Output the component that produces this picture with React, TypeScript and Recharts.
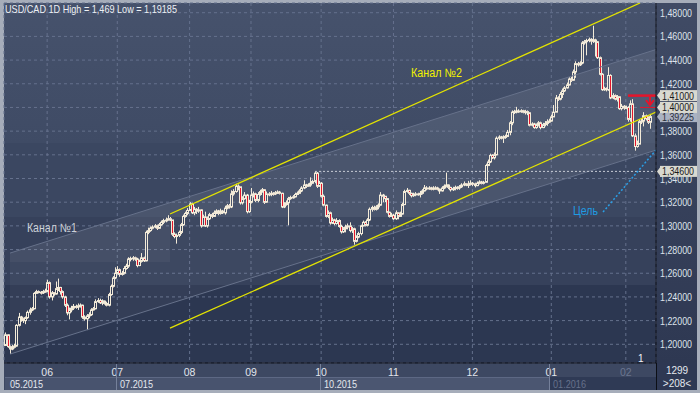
import React from 'react';
import { ComposedChart, Bar, Area, Line, XAxis, YAxis, CartesianGrid, ReferenceDot } from 'recharts';

// ---- daily candles USD/CAD (May 2015 - Feb 2016) ----
const opens = [
1.1990,1.2080,1.1980,1.1960,1.1975,1.1985,1.2160,1.2230,1.2215,1.2200,
1.2225,1.2270,1.2290,1.2300,1.2430,1.2445,1.2440,1.2435,1.2445,1.2450,
1.2520,1.2400,1.2435,1.2425,1.2470,1.2480,1.2445,1.2400,1.2330,1.2265,
1.2290,1.2305,1.2320,1.2315,1.2325,1.2330,1.2230,1.2215,1.2240,1.2250,
1.2290,1.2300,1.2360,1.2370,1.2350,1.2365,1.2345,1.2330,1.2420,1.2490,
1.2560,1.2600,1.2630,1.2590,1.2600,1.2640,1.2660,1.2720,1.2725,1.2730,
1.2720,1.2665,1.2700,1.2730,1.2705,1.2945,1.2960,1.2980,1.2990,1.3000,
1.2980,1.3010,1.3030,1.3045,1.3050,1.3060,1.3050,1.2930,1.2910,1.2920,
1.2945,1.3010,1.3080,1.3105,1.3130,1.3185,1.3110,1.3140,1.3125,1.3135,
1.3000,1.3075,1.3000,1.3060,1.3095,1.3080,1.3110,1.3125,1.3105,1.3125,
1.3110,1.3150,1.3170,1.3160,1.3270,1.3290,1.3335,1.3330,1.3195,1.3230,
1.3260,1.3120,1.3200,1.3260,1.3270,1.3215,1.3265,1.3290,1.3305,1.3200,
1.3270,1.3265,1.3275,1.3270,1.3280,1.3285,1.3275,1.3160,1.3180,1.3195,
1.3230,1.3240,1.3245,1.3265,1.3275,1.3295,1.3320,1.3345,1.3335,1.3345,
1.3360,1.3375,1.3445,1.3335,1.3360,1.3250,1.3175,1.3080,1.3110,1.3025,
1.3050,1.3020,1.3045,1.2995,1.2950,1.2975,1.2990,1.3000,1.2960,1.2975,
1.2870,1.2905,1.2935,1.3000,1.3030,1.3005,1.3050,1.3140,1.3155,1.3140,
1.3160,1.3175,1.3260,1.3250,1.3230,1.3115,1.3080,1.3090,1.3060,1.3110,
1.3080,1.3100,1.3180,1.3290,1.3300,1.3275,1.3255,1.3265,1.3270,1.3265,
1.3275,1.3295,1.3320,1.3315,1.3320,1.3310,1.3318,1.3320,1.3310,1.3295,
1.3320,1.3335,1.3345,1.3325,1.3305,1.3315,1.3325,1.3320,1.3330,1.3345,
1.3355,1.3345,1.3350,1.3360,1.3355,1.3340,1.3360,1.3370,1.3360,1.3368,
1.3510,1.3540,1.3595,1.3575,1.3600,1.3740,1.3750,1.3745,1.3750,1.3755,
1.3790,1.3870,1.3960,1.3965,1.3970,1.3968,1.3972,1.3960,1.3965,1.3955,
1.3850,1.3860,1.3830,1.3850,1.3870,1.3830,1.3855,1.3865,1.3880,1.3885,
1.3920,1.3960,1.4080,1.4070,1.4110,1.4140,1.4165,1.4190,1.4240,1.4230,
1.4300,1.4370,1.4360,1.4375,1.4545,1.4555,1.4565,1.4575,1.4560,1.4570,
1.4555,1.4420,1.4280,1.4150,1.4160,1.4150,1.4270,1.4080,1.4100,1.4070,
1.4090,1.3990,1.4010,1.3995,1.4000,1.3900,1.4030,1.3760,1.3670,1.3690,
1.3880,1.3885,1.3930,1.3905,1.3875];

const highs = [
1.2100,1.2085,1.1990,1.1995,1.2005,1.2170,1.2265,1.2240,1.2225,1.2235,
1.2285,1.2310,1.2315,1.2440,1.2460,1.2455,1.2450,1.2460,1.2470,1.2545,
1.2530,1.2450,1.2440,1.2530,1.2555,1.2485,1.2455,1.2410,1.2345,1.2310,
1.2325,1.2340,1.2335,1.2345,1.2345,1.2335,1.2245,1.2255,1.2270,1.2305,
1.2315,1.2380,1.2390,1.2385,1.2380,1.2370,1.2360,1.2435,1.2505,1.2575,
1.2650,1.2660,1.2640,1.2620,1.2660,1.2680,1.2735,1.2740,1.2745,1.2740,
1.2730,1.2715,1.2770,1.2740,1.2960,1.2985,1.2995,1.3005,1.3015,1.3010,
1.3025,1.3045,1.3060,1.3070,1.3090,1.3075,1.3050,1.2945,1.2935,1.2960,
1.3025,1.3095,1.3120,1.3150,1.3200,1.3195,1.3160,1.3150,1.3160,1.3140,
1.3095,1.3120,1.3080,1.3110,1.3110,1.3130,1.3140,1.3135,1.3145,1.3135,
1.3170,1.3185,1.3185,1.3300,1.3310,1.3355,1.3350,1.3320,1.3250,1.3285,
1.3270,1.3220,1.3320,1.3290,1.3280,1.3285,1.3305,1.3320,1.3310,1.3290,
1.3285,1.3295,1.3285,1.3295,1.3300,1.3295,1.3280,1.3200,1.3215,1.3245,
1.3255,1.3260,1.3280,1.3290,1.3310,1.3335,1.3385,1.3355,1.3360,1.3410,
1.3390,1.3460,1.3455,1.3380,1.3370,1.3265,1.3180,1.3130,1.3120,1.3070,
1.3060,1.3065,1.3055,1.3010,1.2990,1.3010,1.3020,1.3030,1.2990,1.2985,
1.2920,1.2950,1.3010,1.3045,1.3040,1.3065,1.3155,1.3170,1.3170,1.3175,
1.3190,1.3285,1.3270,1.3250,1.3235,1.3120,1.3110,1.3100,1.3130,1.3115,
1.3120,1.3195,1.3305,1.3320,1.3305,1.3280,1.3280,1.3285,1.3280,1.3295,
1.3310,1.3345,1.3335,1.3335,1.3330,1.3335,1.3335,1.3330,1.3315,1.3335,
1.3350,1.3450,1.3350,1.3330,1.3330,1.3340,1.3335,1.3345,1.3360,1.3375,
1.3360,1.3380,1.3385,1.3370,1.3365,1.3375,1.3385,1.3380,1.3380,1.3525,
1.3560,1.3610,1.3605,1.3620,1.3755,1.3765,1.3760,1.3765,1.3770,1.3810,
1.3885,1.3975,1.3980,1.4005,1.3985,1.3985,1.3980,1.3980,1.3975,1.3960,
1.3875,1.3870,1.3865,1.3885,1.3880,1.3870,1.3885,1.3900,1.3905,1.3940,
1.4020,1.4105,1.4095,1.4130,1.4160,1.4180,1.4210,1.4255,1.4260,1.4320,
1.4390,1.4385,1.4390,1.4560,1.4570,1.4580,1.4590,1.4585,1.4690,1.4580,
1.4560,1.4430,1.4290,1.4175,1.4170,1.4340,1.4280,1.4120,1.4110,1.4105,
1.4095,1.4030,1.4020,1.4015,1.4010,1.4060,1.4070,1.3780,1.3720,1.3900,
1.3905,1.3960,1.3940,1.3925,1.3945];

const lows = [
1.1985,1.1970,1.19185,1.1950,1.1965,1.1980,1.2150,1.2190,1.2180,1.2170,
1.2215,1.2250,1.2280,1.2295,1.2425,1.2430,1.2420,1.2425,1.2435,1.2440,
1.2385,1.2370,1.2410,1.2420,1.2450,1.2420,1.2385,1.2315,1.2245,1.2210,
1.2270,1.2290,1.2300,1.2290,1.2310,1.2215,1.2200,1.2120,1.2220,1.2240,
1.2285,1.2295,1.2350,1.2340,1.2330,1.2335,1.2320,1.2320,1.2410,1.2480,
1.2550,1.2590,1.2570,1.2580,1.2590,1.2630,1.2645,1.2700,1.2705,1.2705,
1.2650,1.2660,1.2690,1.2695,1.2700,1.2930,1.2950,1.2970,1.2980,1.2965,
1.2975,1.3000,1.3015,1.3030,1.3045,1.3040,1.2915,1.2895,1.2850,1.2905,
1.2930,1.3000,1.3070,1.3090,1.3125,1.3100,1.3090,1.3100,1.3110,1.2985,
1.3000,1.2990,1.2985,1.3050,1.3065,1.3075,1.3100,1.3090,1.3095,1.3100,
1.3095,1.3140,1.3145,1.3150,1.3255,1.3280,1.3300,1.3180,1.3180,1.3220,
1.3105,1.3110,1.3190,1.3240,1.3200,1.3200,1.3255,1.3280,1.3185,1.3195,
1.3250,1.3250,1.3255,1.3260,1.3270,1.3265,1.3150,1.3150,1.3170,1.3005,
1.3220,1.3230,1.3240,1.3260,1.3270,1.3285,1.3310,1.3320,1.3330,1.3330,
1.3355,1.3360,1.3320,1.3330,1.3240,1.3165,1.3070,1.3065,1.3010,1.3015,
1.3005,1.3010,1.2985,1.2935,1.2940,1.2945,1.2970,1.2945,1.2940,1.2840,
1.2860,1.2895,1.2920,1.2995,1.2995,1.2995,1.3040,1.3120,1.3130,1.3130,
1.3140,1.3170,1.3200,1.3200,1.3105,1.3070,1.3075,1.3050,1.3050,1.3055,
1.3075,1.3095,1.3175,1.3280,1.3260,1.3240,1.3245,1.3250,1.3255,1.3240,
1.3265,1.3290,1.3300,1.3305,1.3300,1.3300,1.3305,1.3300,1.3270,1.3290,
1.3310,1.3325,1.3310,1.3290,1.3295,1.3300,1.3305,1.3305,1.3320,1.3335,
1.3335,1.3320,1.3340,1.3335,1.3325,1.3335,1.3350,1.3350,1.3350,1.3365,
1.3505,1.3530,1.3565,1.3560,1.3595,1.3725,1.3730,1.3700,1.3735,1.3750,
1.3765,1.3850,1.3945,1.3950,1.3955,1.3955,1.3950,1.3940,1.3935,1.3840,
1.3840,1.3820,1.3820,1.3840,1.3815,1.3825,1.3840,1.3845,1.3870,1.3880,
1.3935,1.3960,1.4055,1.4060,1.4080,1.4130,1.4160,1.4185,1.4215,1.4225,
1.4250,1.4345,1.4350,1.4365,1.4530,1.4440,1.4550,1.4530,1.4545,1.4430,
1.4410,1.4270,1.4140,1.4140,1.4135,1.4140,1.4070,1.4070,1.4060,1.4050,
1.3980,1.3975,1.3980,1.3985,1.3880,1.3880,1.3750,1.3635,1.3660,1.3690,
1.3860,1.3840,1.3890,1.3860,1.3820];

const closes = [
1.2080,1.1980,1.1960,1.1975,1.1985,1.2160,1.2230,1.2215,1.2200,1.2225,
1.2270,1.2290,1.2300,1.2430,1.2445,1.2440,1.2435,1.2445,1.2450,1.2520,
1.2400,1.2435,1.2425,1.2470,1.2480,1.2445,1.2400,1.2330,1.2265,1.2290,
1.2305,1.2320,1.2315,1.2325,1.2330,1.2230,1.2215,1.2240,1.2250,1.2290,
1.2300,1.2360,1.2370,1.2350,1.2365,1.2345,1.2330,1.2420,1.2490,1.2560,
1.2600,1.2630,1.2590,1.2600,1.2640,1.2660,1.2720,1.2725,1.2730,1.2720,
1.2665,1.2700,1.2730,1.2705,1.2945,1.2960,1.2980,1.2990,1.3000,1.2980,
1.3010,1.3030,1.3045,1.3050,1.3060,1.3050,1.2930,1.2910,1.2920,1.2945,
1.3010,1.3080,1.3105,1.3130,1.3185,1.3110,1.3140,1.3125,1.3135,1.3000,
1.3075,1.3000,1.3060,1.3095,1.3080,1.3110,1.3125,1.3105,1.3125,1.3110,
1.3150,1.3170,1.3160,1.3270,1.3290,1.3335,1.3330,1.3195,1.3230,1.3260,
1.3120,1.3200,1.3260,1.3270,1.3215,1.3265,1.3290,1.3305,1.3200,1.3270,
1.3265,1.3275,1.3270,1.3280,1.3285,1.3275,1.3160,1.3180,1.3195,1.3230,
1.3240,1.3245,1.3265,1.3275,1.3295,1.3320,1.3345,1.3335,1.3345,1.3360,
1.3375,1.3445,1.3335,1.3360,1.3250,1.3175,1.3080,1.3110,1.3025,1.3050,
1.3020,1.3045,1.2995,1.2950,1.2975,1.2990,1.3000,1.2960,1.2975,1.2870,
1.2905,1.2935,1.3000,1.3030,1.3005,1.3050,1.3140,1.3155,1.3140,1.3160,
1.3175,1.3260,1.3250,1.3230,1.3115,1.3080,1.3090,1.3060,1.3110,1.3080,
1.3100,1.3180,1.3290,1.3300,1.3275,1.3255,1.3265,1.3270,1.3265,1.3275,
1.3295,1.3320,1.3315,1.3320,1.3310,1.3318,1.3320,1.3310,1.3295,1.3320,
1.3335,1.3345,1.3325,1.3305,1.3315,1.3325,1.3320,1.3330,1.3345,1.3355,
1.3345,1.3350,1.3360,1.3355,1.3340,1.3360,1.3370,1.3360,1.3368,1.3510,
1.3540,1.3595,1.3575,1.3600,1.3740,1.3750,1.3745,1.3750,1.3755,1.3790,
1.3870,1.3960,1.3965,1.3970,1.3968,1.3972,1.3960,1.3965,1.3955,1.3850,
1.3860,1.3830,1.3850,1.3870,1.3830,1.3855,1.3865,1.3880,1.3885,1.3920,
1.3960,1.4080,1.4070,1.4110,1.4140,1.4165,1.4190,1.4240,1.4230,1.4300,
1.4370,1.4360,1.4375,1.4545,1.4555,1.4565,1.4575,1.4560,1.4570,1.4555,
1.4420,1.4280,1.4150,1.4160,1.4150,1.4270,1.4080,1.4100,1.4070,1.4090,
1.3990,1.4010,1.3995,1.4000,1.3900,1.4030,1.3760,1.3670,1.3690,1.3880,
1.3885,1.3930,1.3905,1.3875,1.39225];

// month start candle indices and their labels
const monthTickIdx = [19, 51, 84, 112, 144, 177, 213, 249, 283];
const monthLabels = ['06', '07', '08', '09', '10', '11', '12', '01', '02'];
const quarterLabels = ['05.2015', '07.2015', '10.2015', '01.2016'];
const priceTicks = [1.2, 1.22, 1.24, 1.26, 1.28, 1.3, 1.32, 1.34, 1.36, 1.38, 1.4, 1.42, 1.44, 1.46, 1.48];

const X_DOMAIN: [number, number] = [-0.684, 296.77];
const Y_DOMAIN: [number, number] = [1.1842, 1.4882];

// drawn objects (candle index, price)
const channel1Fill = [{ i: 2.05, band: [1.1917, 1.277] }, { i: 296.77, band: [1.364, 1.4489] }];
const channel1GlowLeft = [{ i: 2.05, band: [1.2695, 1.277] }, { i: 75.05, band: [1.2695, 1.3193] }];
const channel1GlowRight = [
  { i: 75.05, band: [1.3074, 1.3193] },
  { i: 200.5, band: [1.3074, 1.3927] },
  { i: 296.77, band: [1.364, 1.4489] },
];
const channel1Upper = [{ i: 2.05, v: 1.277 }, { i: 296.77, v: 1.4489 }];
const channel1Lower = [{ i: 2.05, v: 1.1917 }, { i: 296.77, v: 1.364 }];
const channel2Upper = [{ i: 75.05, v: 1.31 }, { i: 289.5, v: 1.4882 }];
const channel2Lower = [{ i: 75.05, v: 1.2137 }, { i: 296.77, v: 1.3961 }];
const level1346 = [{ i: 141.2, v: 1.346 }, { i: 296.77, v: 1.346 }];
const level141 = [{ i: 284, v: 1.41 }, { i: 296.77, v: 1.41 }];
const level140 = [{ i: 289.5, v: 1.4 }, { i: 296.77, v: 1.4 }];
const targetLine = [{ i: 272.6, v: 1.3117 }, { i: 296.77, v: 1.364 }];

const CREAM = '#f3ebd9';
const RED = '#e4152b';
const FONT = '"Liberation Sans", Arial, sans-serif';

const chartData = closes.map((c, i) => ({
  i,
  o: opens[i],
  h: highs[i],
  l: lows[i],
  c,
  range: [Math.min(lows[i], opens[i], c), Math.max(highs[i], opens[i], c)],
}));

const fmt = (v: number) => v.toFixed(5).replace('.', ',');

const Candle = (props: any) => {
  const { x, y, width, height, payload } = props;
  if (x == null || y == null || !payload) return null;
  const { o, c } = payload;
  const [lo, hi] = payload.range;
  const top = Math.min(y, y + height);
  const hh = Math.abs(height);
  const k = hi - lo > 0 ? hh / (hi - lo) : 0;
  const py = (v: number) => top + (hi - v) * k;
  const cx = Math.round(x + width / 2) + 0.5;
  const yo = py(o);
  const yc = py(c);
  const bTop = Math.min(yo, yc);
  const bBot = Math.max(yo, yc);
  const bear = c < o;
  return (
    <g>
      <line x1={cx} x2={cx} y1={top} y2={bTop} stroke={CREAM} strokeWidth={1} />
      <line x1={cx} x2={cx} y1={bBot} y2={top + hh} stroke={CREAM} strokeWidth={1} />
      <rect x={cx - 1} y={bTop} width={2} height={Math.max(bBot - bTop, 1)} fill={bear ? RED : 'none'} stroke={CREAM} strokeWidth={1} />
    </g>
  );
};

const PriceTick = (props: any) => {
  const { y, payload } = props;
  const v = payload.value;
  if (Math.abs(v - 1.4) < 1e-6) return null;
  return (
    <text x={660} y={y + 4} fill="#dde2ea" fontSize={10} fontFamily={FONT} textLength={32} lengthAdjust="spacingAndGlyphs">
      {fmt(v)}
    </text>
  );
};

const MonthTick = (props: any) => {
  const { x, payload } = props;
  const k = monthTickIdx.indexOf(payload.value);
  if (k < 0) return null;
  return (
    <text x={x} y={376} textAnchor="middle" fill={k === 8 ? '#6b7690' : '#e1e5ec'} fontSize={10.5} fontFamily={FONT}>
      {monthLabels[k]}
    </text>
  );
};

const priceBox = (value: number, fill: string, color: string) => (p: any) => {
  const cy = p.cy;
  if (cy == null) return null;
  return (
    <g>
      <polygon points={`657,${cy} 661,${cy - 5.5} 661,${cy + 5.5}`} fill={fill} />
      <rect x={660} y={cy - 5.5} width={37} height={11} fill={fill} />
      <text x={662} y={cy + 4} fill={color} fontSize={10} fontFamily={FONT} textLength={32} lengthAdjust="spacingAndGlyphs">
        {fmt(value)}
      </text>
    </g>
  );
};

const textLabel = (txt: string, color: string, size: number, len: number) => (p: any) => {
  if (p.cx == null) return null;
  return (
    <text x={p.cx} y={p.cy + size * 0.36} fill={color} fontSize={size} fontFamily={FONT} textLength={len} lengthAdjust="spacingAndGlyphs">
      {txt}
    </text>
  );
};

const redArrow = (p: any) => {
  if (p.cx == null) return null;
  const { cx, cy } = p;
  return (
    <g stroke={RED} strokeWidth={2} fill="none">
      <line x1={cx} x2={cx} y1={cy} y2={cy + 8} />
      <polyline points={`${cx - 4},${cy + 3} ${cx},${cy + 8} ${cx + 4},${cy + 3}`} />
    </g>
  );
};

export default function App() {
  return (
    <div style={{ position: 'absolute', left: 0, top: 0, width: 700, height: 393, background: '#a6adba', overflow: 'hidden' }}>
      {/* plot background bands */}
      <div style={{ position: 'absolute', left: 4, top: 3, width: 652, height: 140, background: 'linear-gradient(#46526c, #3f4b65)' }} />
      <div style={{ position: 'absolute', left: 4, top: 143, width: 652, height: 74, background: '#3b4761' }} />
      <div style={{ position: 'absolute', left: 4, top: 217, width: 652, height: 68, background: '#36415b' }} />
      <div style={{ position: 'absolute', left: 4, top: 285, width: 652, height: 78, background: '#2c3751' }} />
      {/* right axis panel */}
      <div style={{ position: 'absolute', left: 656, top: 3, width: 41, height: 360, background: 'linear-gradient(#404b65, #2e3852)' }} />
      {/* bottom panel */}
      <div style={{ position: 'absolute', left: 4, top: 363, width: 652, height: 27, background: '#3d4862' }} />
      <div style={{ position: 'absolute', left: 656, top: 363, width: 41, height: 27, background: '#2e3853' }} />

      <div style={{ position: 'absolute', left: 0, top: 0 }}>
        <ComposedChart width={700} height={393} data={chartData} margin={{ top: 3, right: 3, bottom: 0, left: 4 }}>
          <CartesianGrid stroke="#65718d" strokeDasharray="3 3" horizontal vertical />
          <XAxis
            dataKey="i"
            type="number"
            domain={X_DOMAIN}
            allowDataOverflow
            ticks={monthTickIdx}
            height={30}
            axisLine={{ stroke: '#0c0f16' }}
            tickLine={false}
            tick={<MonthTick />}
            interval={0}
          />
          <YAxis
            orientation="right"
            type="number"
            domain={Y_DOMAIN}
            allowDataOverflow
            ticks={priceTicks}
            width={41}
            axisLine={{ stroke: '#0c0f16' }}
            tickLine={false}
            tick={<PriceTick />}
            interval={0}
          />
          <Area data={channel1Fill} dataKey="band" type="linear" stroke="none" fill="#ffffff" fillOpacity={0.04} isAnimationActive={false} />
          <Area data={channel1GlowLeft} dataKey="band" type="linear" stroke="none" fill="#ffffff" fillOpacity={0.045} isAnimationActive={false} />
          <Area data={channel1GlowRight} dataKey="band" type="linear" stroke="none" fill="#ffffff" fillOpacity={0.045} isAnimationActive={false} />
          <Line data={channel1Upper} dataKey="v" type="linear" stroke="#66718a" strokeWidth={1} dot={false} activeDot={false} isAnimationActive={false} />
          <Line data={channel1Lower} dataKey="v" type="linear" stroke="#66718a" strokeWidth={1} dot={false} activeDot={false} isAnimationActive={false} />
          <Line data={level1346} dataKey="v" type="linear" stroke="#c5cad4" strokeWidth={1} strokeDasharray="2 2" dot={false} activeDot={false} isAnimationActive={false} />
          <Bar dataKey="range" barSize={3} isAnimationActive={false} shape={(p: any) => <Candle {...p} />} />
          <Line data={channel2Upper} dataKey="v" type="linear" stroke="#e4e400" strokeWidth={1.3} dot={false} activeDot={false} isAnimationActive={false} />
          <Line data={channel2Lower} dataKey="v" type="linear" stroke="#e4e400" strokeWidth={1.3} dot={false} activeDot={false} isAnimationActive={false} />
          <Line data={targetLine} dataKey="v" type="linear" stroke="#2a9fe6" strokeWidth={1.5} strokeDasharray="2 2" dot={false} activeDot={false} isAnimationActive={false} />
          <Line data={level141} dataKey="v" type="linear" stroke={RED} strokeWidth={2.5} dot={false} activeDot={false} isAnimationActive={false} />
          <Line data={level140} dataKey="v" type="linear" stroke={RED} strokeWidth={1} dot={false} activeDot={false} isAnimationActive={false} />
          <ReferenceDot x={294} y={1.4088} ifOverflow="visible" shape={redArrow} />
          <ReferenceDot x={185} y={1.4291} ifOverflow="visible" shape={textLabel('Канал №2', '#f2f200', 12, 51)} />
          <ReferenceDot x={9.8} y={1.2982} ifOverflow="visible" shape={textLabel('Канал №1', '#cdd1d8', 12, 50)} />
          <ReferenceDot x={258.9} y={1.3132} ifOverflow="visible" shape={textLabel('Цель', '#1f9be2', 12, 25)} />
          <ReferenceDot x={X_DOMAIN[1]} y={1.346} ifOverflow="visible" zIndex={2000} shape={priceBox(1.346, '#d9d9d0', '#1b1b1b')} />
          <ReferenceDot x={X_DOMAIN[1]} y={closes[closes.length - 1]} ifOverflow="visible" zIndex={2000} shape={priceBox(closes[closes.length - 1], '#aab2c2', '#2a2f3a')} />
          <ReferenceDot x={X_DOMAIN[1]} y={1.4} ifOverflow="visible" zIndex={2000} shape={priceBox(1.4, '#d9d9d0', '#1b1b1b')} />
          <ReferenceDot x={X_DOMAIN[1]} y={1.41} ifOverflow="visible" zIndex={2000} shape={priceBox(1.41, '#d9d9d0', '#1b1b1b')} />
        </ComposedChart>
      </div>

      <svg width={700} height={393} style={{ position: 'absolute', left: 0, top: 0, pointerEvents: 'none' }}>
        <text x={5} y={13} fill="#eef1f5" fontSize={11} fontFamily={FONT} textLength={172} lengthAdjust="spacingAndGlyphs">
          USD/CAD 1D High = 1,469 Low = 1,19185
        </text>
        <text x={638} y={362} fill="#f0f2f5" fontSize={10} fontFamily={FONT}>1</text>
        {/* period boxes */}
        <rect x={5} y={377} width={111} height={13} fill="#48536e" />
        <rect x={117} y={377} width={203} height={13} fill="#48536e" />
        <rect x={321} y={377} width={228} height={13} fill="#4b5671" />
        <rect x={550} y={377} width={106} height={13} fill="#2f3a55" />
        <line x1={5} x2={549} y1={377.5} y2={377.5} stroke="#5d6884" />
        <line x1={116.5} x2={116.5} y1={364} y2={390} stroke="#75809a" />
        <line x1={320.5} x2={320.5} y1={364} y2={390} stroke="#75809a" />
        <line x1={549.5} x2={549.5} y1={364} y2={390} stroke="#75809a" />
        <line x1={656.5} x2={656.5} y1={363} y2={390} stroke="#0c0f16" />
        <text x={10} y={387.5} fill="#e4e8ee" fontSize={10} fontFamily={FONT} textLength={33} lengthAdjust="spacingAndGlyphs">{quarterLabels[0]}</text>
        <text x={120} y={387.5} fill="#e4e8ee" fontSize={10} fontFamily={FONT} textLength={33} lengthAdjust="spacingAndGlyphs">{quarterLabels[1]}</text>
        <text x={324} y={387.5} fill="#e4e8ee" fontSize={10} fontFamily={FONT} textLength={33} lengthAdjust="spacingAndGlyphs">{quarterLabels[2]}</text>
        <text x={553} y={387.5} fill="#66718b" fontSize={10} fontFamily={FONT} textLength={33} lengthAdjust="spacingAndGlyphs">{quarterLabels[3]}</text>
        <text x={677} y={374} textAnchor="middle" fill="#e4e8ee" fontSize={10} fontFamily={FONT}>1299</text>
        <text x={677} y={387} textAnchor="middle" fill="#e4e8ee" fontSize={10} fontFamily={FONT}>&gt;208&lt;</text>
      </svg>
    </div>
  );
}
